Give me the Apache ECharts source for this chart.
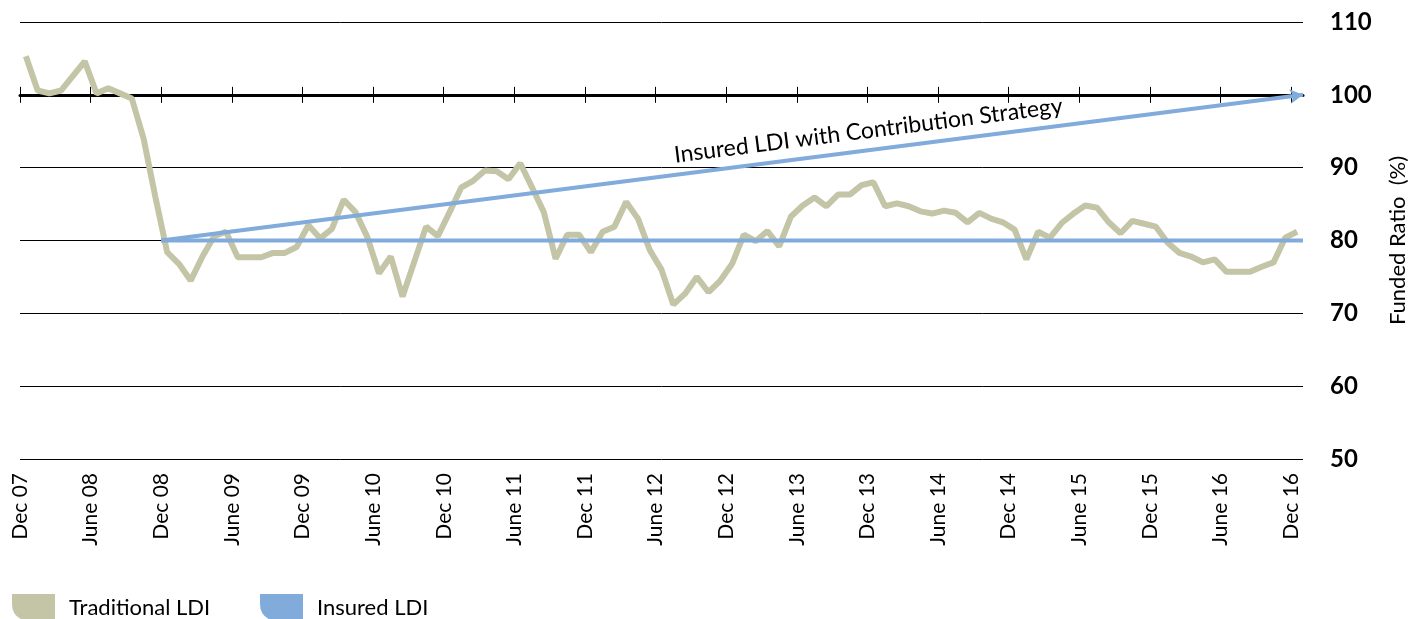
<!DOCTYPE html>
<html><head><meta charset="utf-8">
<script src="https://cdn.jsdelivr.net/npm/echarts@6/dist/echarts.min.js"></script>
<style>html,body{margin:0;padding:0;background:#fff}#c{width:1417px;height:619px}</style>
</head><body><div id="c"></div>
<script>
const monthNames = ['Jan','Feb','Mar','Apr','May','June','July','Aug','Sep','Oct','Nov','Dec'];
// Traditional LDI funded ratio, monthly Dec 07 .. Dec 16
const traditionalLDI = [105.3,100.6,100.2,100.6,102.6,104.6,100.2,100.9,100.2,99.5,
  94.0,86.0,78.4,76.8,74.5,77.8,80.6,81.2,77.7,77.7,
  77.7,78.3,78.3,79.1,82.1,80.3,81.6,85.6,83.9,80.5,
  75.5,77.8,72.3,77.1,81.9,80.6,83.9,87.3,88.2,89.6,
  89.5,88.4,90.6,87.3,83.9,77.5,80.8,80.8,78.4,81.2,
  81.9,85.3,83.0,78.7,76.0,71.2,72.7,75.0,72.9,74.5,
  76.8,80.8,79.9,81.3,79.2,83.3,84.8,85.9,84.7,86.3,
  86.3,87.6,88.0,84.7,85.1,84.7,84.0,83.7,84.1,83.8,
  82.5,83.8,83.0,82.5,81.5,77.4,81.2,80.4,82.4,83.7,
  84.8,84.5,82.5,81.0,82.7,82.3,81.9,79.7,78.3,77.8,
  77.0,77.4,75.7,75.7,75.7,76.4,77.0,80.4,81.2];
const insuredStart = 'Dec 08', insuredEnd = 'Jan 17';
const insuredLevels = [80, 80];
const contributionLevels = [80, 100];
const contributionLabel = 'Insured LDI with Contribution Strategy';
const yMin = 50, yMax = 110, yStep = 10;
const yName = 'Funded Ratio  (%)';

function buildMonths(m0, y0, n) {
  const out = [];
  for (let k = 0; k < n; k++) {
    const m = (m0 + k) % 12, y = y0 + Math.floor((m0 + k) / 12);
    out.push(monthNames[m] + ' ' + String(y).padStart(2, '0'));
  }
  return out;
}
const dataMonths = buildMonths(11, 7, traditionalLDI.length);
const axisMonths = buildMonths(11, 7, traditionalLDI.length + 1);
const iS = axisMonths.indexOf(insuredStart), iE = axisMonths.indexOf(insuredEnd);

const C1 = '#c4c5a7', C2 = '#80abdb';
const FONT = 'Lato';
const W = 1417, H = 619, gTop = 22, gBottom = 160, gLeft = 20, gRight = 112;
const gH = H - gTop - gBottom;
const tickEvery = (i) => i % 6 === 0;
const ICON = 'path://M0,0 L43,0 L43,28 L20,28 Q0,26 0,10 Z';

const chart = echarts.init(document.getElementById('c'));
chart.setOption({
  animation: false,
  backgroundColor: '#fff',
  grid: {left: gLeft, right: gRight, top: gTop, bottom: gBottom},
  xAxis: [
    {type: 'category', data: dataMonths, boundaryGap: true, show: false},
    {type: 'category', data: axisMonths, boundaryGap: false, position: 'bottom',
      axisLine: {show: false}, axisTick: {show: false}, splitLine: {show: false},
      axisLabel: {interval: tickEvery, rotate: 90, fontSize: 21, color: '#000', fontFamily: FONT, margin: 14}},
    {type: 'category', data: axisMonths, boundaryGap: false, position: 'top', offset: -gH * (yMax - 100) / (yMax - yMin),
      axisLine: {show: true, lineStyle: {color: '#000', width: 3}},
      axisTick: {show: true, interval: tickEvery, length: 8, lineStyle: {color: '#000', width: 1}},
      axisLabel: {show: false}, splitLine: {show: false}},
    {type: 'category', data: axisMonths, boundaryGap: false, position: 'top', offset: -gH * (yMax - 100) / (yMax - yMin),
      axisLine: {show: false},
      axisTick: {show: true, inside: true, interval: tickEvery, length: 8, lineStyle: {color: '#000', width: 1}},
      axisLabel: {show: false}, splitLine: {show: false}}
  ],
  yAxis: {
    type: 'value', position: 'right', min: yMin, max: yMax, interval: yStep,
    axisLine: {show: false}, axisTick: {show: false},
    axisLabel: {fontSize: 24, fontWeight: 'bold', color: '#000', fontFamily: FONT, margin: 27},
    splitLine: {lineStyle: {color: '#000', width: 1}},
    name: yName, nameLocation: 'middle', nameRotate: 90, nameGap: 84,
    nameTextStyle: {fontSize: 22, color: '#000', fontFamily: FONT}
  },
  legend: [
    {data: ['Traditional LDI'], left: 12, top: 594, padding: 0, itemWidth: 43, itemHeight: 28, icon: ICON,
      selectedMode: false, textStyle: {fontSize: 22, color: '#000', fontFamily: FONT, padding: [0, 0, 0, 9]}},
    {data: ['Insured LDI'], left: 260, top: 594, padding: 0, itemWidth: 43, itemHeight: 28, icon: ICON,
      selectedMode: false, textStyle: {fontSize: 22, color: '#000', fontFamily: FONT, padding: [0, 0, 0, 9]}}
  ],
  series: [
    {name: 'Traditional LDI', type: 'line', xAxisIndex: 0, data: traditionalLDI, symbol: 'none',
      lineStyle: {color: C1, width: 6}, itemStyle: {color: C1}, z: 2},
    {name: 'Insured LDI', type: 'line', xAxisIndex: 1,
      data: [[iS, insuredLevels[0]], [iE, insuredLevels[1]]], symbol: 'none',
      lineStyle: {color: C2, width: 4}, itemStyle: {color: C2}, z: 3,
      markLine: {
        silent: true, symbol: ['none', 'arrow'], symbolSize: [11, 13],
        lineStyle: {color: C2, width: 4, type: 'solid'},
        label: {show: true, position: 'insideEndTop', formatter: contributionLabel, distance: [240, 8],
          fontSize: 23, color: '#000', fontFamily: FONT},
        data: [[{coord: [iS, contributionLevels[0]]}, {coord: [iE, contributionLevels[1]]}]]
      }}
  ]
});
</script></body></html>
